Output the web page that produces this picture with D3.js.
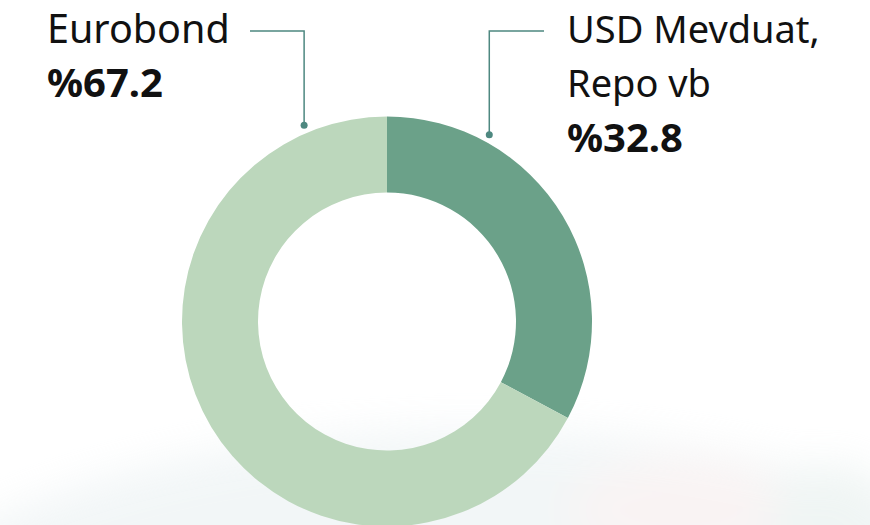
<!DOCTYPE html>
<html>
<head>
<meta charset="utf-8">
<script src="https://cdn.jsdelivr.net/npm/d3@7"></script>
<style>
  html, body { margin: 0; padding: 0; background: #fff; }
  svg { display: block; font-family: "Noto Sans", sans-serif; }
</style>
</head>
<body>
<div id="chart"></div>
<script>
const width = 870,
    height = 525;
const cx = 387, cy = 321.5;
const outerR = 205, innerR = 129;

// data
const categories = ["USD Mevduat, Repo vb", "Eurobond"];
const values = [32.8, 67.2];
const labelLines = [["USD Mevduat,", "Repo vb"], ["Eurobond"]];
const valueLabels = ["%32.8", "%67.2"];
const colors = ["#6ba189", "#bcd7bc"];

const svg = d3.select("#chart")
    .append("svg")
    .attr("width", width)
    .attr("height", height);

// faint blurred background at the bottom
const defs = svg.append("defs");
const blur = defs.append("filter").attr("id", "blur")
    .attr("x", "-20%").attr("y", "-20%").attr("width", "140%").attr("height", "140%");
blur.append("feGaussianBlur").attr("stdDeviation", 20);

const bg = svg.append("g").attr("filter", "url(#blur)").style("opacity", 0.45);
bg.append("ellipse")
    .attr("cx", 470).attr("cy", 720)
    .attr("rx", 660).attr("ry", 290)
    .attr("fill", "#e3ecee");
bg.append("ellipse")
    .attr("cx", 680).attr("cy", 510)
    .attr("rx", 110).attr("ry", 50)
    .attr("fill", "#f3e6e6");
bg.append("ellipse")
    .attr("cx", 830).attr("cy", 510)
    .attr("rx", 60).attr("ry", 45)
    .attr("fill", "#dde9e6");

const g = svg.append("g")
    .attr("transform", `translate(${cx}, ${cy})`);

const pie = d3.pie()
    .value(d => d)
    .sort(null);

const arcs = pie(values);

const arcGenerator = d3.arc()
    .innerRadius(innerR)
    .outerRadius(outerR);

g.selectAll("path.slice")
    .data(arcs)
    .join("path")
    .attr("class", "slice")
    .attr("d", arcGenerator)
    .attr("fill", (d, i) => colors[i]);

// leader lines: dot angle (degrees from top), elbow x, text block
const leaderColor = "#4e8880";
const dotR = 213;
const leaders = [
    { i: 0, angle: 28.7, lineY: 31, endX: 544, textX: 567, size: 38 },
    { i: 1, angle: -22.9, lineY: 31, endX: 250, textX: 47, size: 39.5 }
];

leaders.forEach(l => {
    const a = l.angle * Math.PI / 180;
    const dx = cx + dotR * Math.sin(a);
    const dy = cy - dotR * Math.cos(a);
    svg.append("path")
        .attr("d", `M${dx},${dy}V${l.lineY}H${l.endX}`)
        .attr("fill", "none")
        .attr("stroke", leaderColor)
        .attr("stroke-width", 1.5);
    svg.append("circle")
        .attr("cx", dx).attr("cy", dy).attr("r", 3.5)
        .attr("fill", leaderColor);

    const lines = labelLines[l.i];
    const t = svg.append("text")
        .attr("x", l.textX)
        .attr("y", 43)
        .attr("fill", "#111")
        .style("font-size", l.size + "px");
    lines.forEach((s, k) => {
        t.append("tspan")
            .attr("x", l.textX)
            .attr("dy", k === 0 ? 0 : 54)
            .text(s);
    });
    svg.append("text")
        .attr("x", l.textX)
        .attr("y", 43 + lines.length * 55 - 1)
        .attr("fill", "#111")
        .style("font-size", "40px")
        .style("font-weight", "bold")
        .text(valueLabels[l.i]);
});
</script>
</body>
</html>
